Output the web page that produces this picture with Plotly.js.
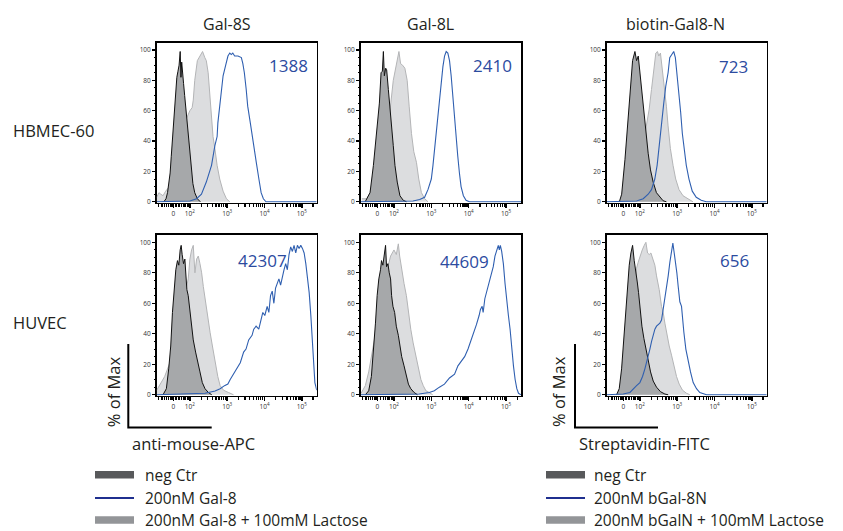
<!DOCTYPE html>
<html>
<head>
<meta charset="utf-8">
<script src="https://cdn.plot.ly/plotly-3.0.1.min.js"></script>
<style>html,body{margin:0;padding:0;background:#fff;}#chart{width:843px;height:531px;}</style>
</head>
<body>
<div id="chart"></div>
<script>
// ---------- DATA (x in display decades of the biexponential scale, y = % of Max) ----------
const colTitles = ["Gal-8S", "Gal-8L", "biotin-Gal8-N"];
const rowTitles = ["HBMEC-60", "HUVEC"];
const mfiLabels = ["1388", "2410", "723", "42307", "44609", "656"];
const xTickVals = [1.555, 2, 3, 4, 5];
const xTickText = ["0", "10<sup>2</sup>", "10<sup>3</sup>", "10<sup>4</sup>", "10<sup>5</sup>"];
const yTickVals = [0, 20, 40, 60, 80, 100];
const legendLeft = ["neg Ctr", "200nM Gal-8", "200nM Gal-8 + 100mM Lactose"];
const legendRight = ["neg Ctr", "200nM bGal-8N", "200nM bGalN + 100mM Lactose"];
const axisLabels = ["anti-mouse-APC", "Streptavidin-FITC"];

// HBMEC-60, Gal-8S
const hb8S_neg_x = [1.30,1.36,1.40,1.44,1.47,1.50,1.53,1.56,1.58,1.62,1.65,1.68,1.71,1.74,1.76,1.78,1.80,1.83,1.86,1.89,1.92,1.95,1.99,2.03,2.08,2.13,2.20,2.28];
const hb8S_neg_y = [0,2,6,12,19,30,41,53,63,74,82,86,90,99,82,92,88,78,70,62,52,43,32,20,12,6,2,0];
const hb8S_lac_x = [1.11,1.17,1.22,1.28,1.35,1.45,1.55,1.65,1.75,1.85,1.91,2.00,2.06,2.09,2.13,2.20,2.27,2.34,2.40,2.44,2.49,2.53,2.58,2.62,2.67,2.73,2.80,2.89,2.98,3.07];
const hb8S_lac_y = [3,6,5,4,7,10,16,24,35,48,55,60,62,67,80,93,96,99,95,93,85,72,56,43,35,24,15,7,2,0];
const hb8S_gal_x = [1.11,2.00,2.18,2.31,2.44,2.58,2.67,2.73,2.75,2.80,2.84,2.89,2.96,3.02,3.07,3.11,3.15,3.20,3.29,3.38,3.42,3.46,3.51,3.55,3.62,3.67,3.70,3.78,3.85,3.91,3.97,4.04,5.40];
const hb8S_gal_y = [0,0.5,2,5,13,24,37,43,52,63,74,83,90,96,98,97,98,96,96,95,91,85,74,63,52,43,37,26,15,6,2,0,0];

// HBMEC-60, Gal-8L
const hb8L_neg_x = [1.23,1.36,1.45,1.54,1.61,1.655,1.69,1.717,1.743,1.779,1.805,1.85,1.894,1.938,1.982,2.027,2.088,2.16,2.248,2.336];
const hb8L_neg_y = [0,6,24,48,65,85,86,99,83,88,87,74,63,52,37,24,13,4,1,0];
const hb8L_lac_x = [1.14,1.27,1.45,1.63,1.805,1.894,1.982,2.071,2.133,2.177,2.23,2.292,2.354,2.407,2.469,2.531,2.602,2.664,2.735,2.823,2.912];
const hb8L_lac_y = [2,2,10,30,50,60,80,91,99,91,90,88,80,63,45,33,26,15,6,2,0];
const hb8L_gal_x = [1.11,2.51,2.69,2.82,2.91,3.0,3.044,3.088,3.133,3.177,3.221,3.265,3.31,3.354,3.398,3.442,3.487,3.531,3.575,3.62,3.664,3.708,3.752,3.796,3.858,3.929,4.018,5.40];
const hb8L_gal_y = [0,0.5,1.5,3,8,15,24,35,45,59,69,80,89,96,99,98,93,83,69,54,41,30,19,10,4,1,0,0];

// HBMEC-60, biotin-Gal8-N
const hbN_neg_x = [1.449,1.511,1.6,1.671,1.733,1.804,1.867,1.911,1.956,2,2.044,2.107,2.16,2.222,2.284,2.356,2.444,2.533,2.622,2.711];
const hbN_neg_y = [0,5,28,52,74,93,99,93,96,85,72,59,45,32,21,13,6,3,0.7,0];
const hbN_lac_x = [1.644,1.822,2,2.133,2.196,2.249,2.311,2.373,2.427,2.471,2.507,2.551,2.604,2.667,2.711,2.756,2.818,2.889,2.96,3.049,3.156,3.289,3.422];
const hbN_lac_y = [0,10,25,45,52,61,74,85,98,99,96,98,87,76,63,50,35,24,15,8,4,2,0];
const hbN_gal_x = [1.11,1.911,2.089,2.222,2.311,2.4,2.462,2.533,2.578,2.64,2.693,2.756,2.8,2.871,2.907,2.951,2.996,3.049,3.093,3.138,3.182,3.244,3.316,3.404,3.511,3.644,3.778,5.40];
const hbN_gal_y = [0,0.5,2,5,8,15,24,41,54,65,76,85,95,98,99,95,85,72,59,45,35,24,15,7,3,1,0,0];

// HUVEC, Gal-8S
const hu8S_neg_x = [1.279,1.369,1.432,1.486,1.532,1.577,1.622,1.667,1.703,1.739,1.766,1.793,1.829,1.865,1.892,1.919,1.955,2,2.045,2.09,2.153,2.207,2.27,2.333,2.405,2.495,2.586];
const hu8S_neg_y = [0,4,17,32,54,71,82,88,85,95,98,92,86,89,80,69,65,56,45,36,28,21,15,8,4,1.5,0];
const hu8S_lac_x = [1.11,1.189,1.324,1.432,1.595,1.775,1.865,1.955,2,2.045,2.09,2.135,2.18,2.225,2.27,2.315,2.36,2.405,2.45,2.495,2.541,2.604,2.676,2.748,2.811,2.901,3.036,3.171];
const hu8S_lac_y = [3,6,12,19,30,55,65,76,89,95,98,80,89,91,86,80,71,63,56,49,41,32,21,12,6,3,1.5,0];
const hu8S_gal_x = [1.11,1.955,2.405,2.676,2.811,2.928,3.018,3.081,3.171,3.261,3.351,3.441,3.505,3.577,3.667,3.712,3.775,3.847,3.892,3.955,4.009,4.072,4.117,4.162,4.207,4.252,4.297,4.342,4.387,4.432,4.477,4.523,4.568,4.613,4.658,4.703,4.748,4.793,4.838,4.883,4.928,4.973,5.018,5.063,5.108,5.153,5.198,5.243,5.288,5.324,5.351,5.40];
const hu8S_gal_y = [0,0.5,1,2.5,4,6,7,10,13.5,17,21,28,30,36,39,43,45,43,47,54,52,58,54,65,68,60,70,73,76,72,78,82,86,82,92,97,94,98,93,98,96,98,96,93,86,78,67,52,32,12,8,3];

// HUVEC, Gal-8L
const hu8L_neg_x = [1.234,1.324,1.396,1.459,1.505,1.55,1.595,1.64,1.667,1.703,1.739,1.775,1.802,1.838,1.874,1.91,1.937,1.973,2.018,2.063,2.117,2.153,2.207,2.27,2.333,2.387,2.45,2.541,2.631];
const hu8L_neg_y = [0,2.6,12,30,47,65,76,82,88,85,93,98,84,86,80,76,65,58,54,45,39,32,25,19,12,7,4,1.5,0];
const hu8L_lac_x = [1.12,1.234,1.324,1.414,1.55,1.685,1.82,1.91,1.955,2,2.063,2.117,2.153,2.207,2.27,2.333,2.387,2.45,2.514,2.586,2.658,2.721,2.784,2.856,2.946,3.036];
const hu8L_lac_y = [1,6,15,28,45,65,82,91,93,95,92,99,91,82,73,65,54,43,34,25,17,10,6,2.6,1.5,0];
const hu8L_gal_x = [1.11,2.676,2.946,3.081,3.216,3.351,3.486,3.622,3.712,3.802,3.892,3.982,4.072,4.135,4.207,4.279,4.315,4.36,4.387,4.432,4.477,4.523,4.568,4.613,4.658,4.703,4.748,4.793,4.82,4.847,4.883,4.928,4.973,5.018,5.063,5.108,5.153,5.198,5.243,5.288,5.333,5.378,5.40];
const hu8L_gal_y = [0,0.5,1.5,2.6,5,7,11,13.5,19,22,25,30,36,41,46,52,56,58,54,63,67,71,76,80,84,91,95,98,95,98,94,86,73,60,52,43,30,19,10,4,1,0,0];

// HUVEC, biotin-Gal8-N
const huN_neg_x = [1.375,1.446,1.509,1.571,1.625,1.67,1.714,1.759,1.804,1.848,1.893,1.929,1.964,2,2.054,2.107,2.161,2.223,2.286,2.357,2.446,2.554,2.67,2.759];
const huN_neg_y = [0,4,17,37,56,71,85,93,98,88,78,74,67,56,45,37,30,21,15,9,5,2,0.5,0];
const huN_lac_x = [1.42,1.554,1.688,1.804,1.911,1.955,2,2.063,2.116,2.161,2.205,2.25,2.295,2.339,2.402,2.446,2.518,2.58,2.625,2.67,2.714,2.786,2.848,2.911,2.982,3.054,3.143,3.25,3.339];
const huN_lac_y = [0,5,25,55,83,87,91,95,98,100,93,92,93,89,85,78,69,58,54,47,41,32,26,19,12,7,3,1,0];
const huN_gal_x = [1.11,1.554,1.732,1.821,1.911,2,2.071,2.134,2.179,2.223,2.268,2.313,2.357,2.402,2.446,2.491,2.536,2.58,2.625,2.67,2.714,2.759,2.804,2.848,2.884,2.92,2.955,2.991,3.027,3.071,3.116,3.143,3.179,3.232,3.295,3.357,3.429,3.518,3.607,3.696,3.786,5.40];
const huN_gal_y = [0,0.5,1.5,4,6,8,12,17,21,26,30,35,39,43,45,46,47,49,56,61,69,78,87,95,99.5,93,87,80,71,61,58,50,41,30,21,15,8,4,1.5,0.5,0,0];

// ---------- STYLE ----------
const W = 843, H = 531;
const FONT = "Open Sans, Noto Sans, sans-serif";
const TXT = "#231f20";
const C_NEG_FILL = "#a6a8aa", C_NEG_LINE = "#111111";
const C_LAC_FILL = "#dcdddf", C_LAC_LINE = "#b3b4b6";
const C_GAL = "#2f5fb0", C_NUM = "#2c4b9f", C_LEG_BLUE = "#1f2f8f";
const C_LEG_NEG = "#58595b", C_LEG_LAC = "#939598";

const colPx = [[156.7, 316.7], [360.7, 521], [606.7, 766.7]];
const rowPx = [[42.7, 202.7], [235, 395.7]];
const px = (x) => x / W;
const py = (y) => 1 - y / H;

const panels = [
  [hb8S_neg_x, hb8S_neg_y, hb8S_lac_x, hb8S_lac_y, hb8S_gal_x, hb8S_gal_y],
  [hb8L_neg_x, hb8L_neg_y, hb8L_lac_x, hb8L_lac_y, hb8L_gal_x, hb8L_gal_y],
  [hbN_neg_x, hbN_neg_y, hbN_lac_x, hbN_lac_y, hbN_gal_x, hbN_gal_y],
  [hu8S_neg_x, hu8S_neg_y, hu8S_lac_x, hu8S_lac_y, hu8S_gal_x, hu8S_gal_y],
  [hu8L_neg_x, hu8L_neg_y, hu8L_lac_x, hu8L_lac_y, hu8L_gal_x, hu8L_gal_y],
  [huN_neg_x, huN_neg_y, huN_lac_x, huN_lac_y, huN_gal_x, huN_gal_y]
];

// minor ticks of the biexponential axis
const minorVals = [1.15, 1.25, 1.32, 1.38, 1.43, 1.48, 1.52, 1.63, 1.71, 1.78, 1.84, 1.89, 1.93, 1.97];
for (let k = 2; k <= 5; k++) for (let m = 2; m <= 9; m++) { const v = k + Math.log10(m); if (v < 5.39) minorVals.push(v); }

const traces = [];
const layout = {
  width: W, height: H, margin: {l: 0, r: 0, t: 0, b: 0},
  paper_bgcolor: "#fff", plot_bgcolor: "#fff", showlegend: false,
  font: {family: FONT, color: TXT},
  annotations: [], shapes: []
};

panels.forEach((p, i) => {
  const r = Math.floor(i / 3), c = i % 3;
  const xa = i === 0 ? "x" : "x" + (i + 1), ya = i === 0 ? "y" : "y" + (i + 1);
  const xk = i === 0 ? "xaxis" : "xaxis" + (i + 1), yk = i === 0 ? "yaxis" : "yaxis" + (i + 1);
  traces.push({x: p[2], y: p[3], xaxis: xa, yaxis: ya, type: "scatter", mode: "lines", fill: "tozeroy",
    fillcolor: C_LAC_FILL, line: {color: C_LAC_LINE, width: 1}, hoverinfo: "skip"});
  traces.push({x: p[0], y: p[1], xaxis: xa, yaxis: ya, type: "scatter", mode: "lines", fill: "tozeroy",
    fillcolor: C_NEG_FILL, line: {color: C_NEG_LINE, width: 1}, hoverinfo: "skip"});
  traces.push({x: p[4], y: p[5], xaxis: xa, yaxis: ya, type: "scatter", mode: "lines",
    line: {color: C_GAL, width: 1.1}, hoverinfo: "skip"});
  layout[xk] = {
    domain: [px(colPx[c][0]), px(colPx[c][1])], anchor: ya, range: [1.11, 5.40],
    showgrid: false, zeroline: false, showline: true, mirror: true, linecolor: "#000", linewidth: 1.6,
    layer: "below traces",
    tickmode: "array", tickvals: xTickVals, ticktext: xTickText, ticks: "outside", ticklen: 4,
    tickwidth: 1.5, tickcolor: "#000", tickfont: {size: 6.5, color: "#333", family: FONT},
    minor: {tickmode: "array", tickvals: minorVals, ticks: "outside", ticklen: 2.5, tickwidth: 1.2, tickcolor: "#000"},
    fixedrange: true
  };
  layout[yk] = {
    domain: [py(rowPx[r][1]), py(rowPx[r][0])], anchor: xa, range: [-0.6, 104.8],
    showgrid: false, zeroline: false, showline: true, mirror: true, linecolor: "#000", linewidth: 1.6,
    layer: "below traces",
    tickmode: "array", tickvals: yTickVals, ticks: "outside", ticklen: 3, tickwidth: 1.2, tickcolor: "#000",
    tickfont: {size: 6.5, color: "#333", family: FONT},
    minor: {dtick: 5, ticks: "outside", ticklen: 1.5, tickwidth: 1, tickcolor: "#000"},
    fixedrange: true
  };
});

// column titles
const colCenters = [227, 430, 675.5];
colTitles.forEach((t, i) => layout.annotations.push({xref: "paper", yref: "paper", x: px(colCenters[i]), y: py(23.5),
  text: t, showarrow: false, xanchor: "center", yanchor: "middle", font: {size: 16, color: TXT}}));
// row titles
const rowCenters = [130, 322];
rowTitles.forEach((t, i) => layout.annotations.push({xref: "paper", yref: "paper", x: px(11), y: py(rowCenters[i]),
  text: t, showarrow: false, xanchor: "left", yanchor: "middle", font: {size: 16.5, color: TXT}}));
// MFI numbers
const mfiPos = [[288, 66], [492.5, 66], [733, 66.5], [262.5, 260], [464, 261], [734, 260]];
mfiLabels.forEach((t, i) => layout.annotations.push({xref: "paper", yref: "paper", x: px(mfiPos[i][0]), y: py(mfiPos[i][1]),
  text: t, showarrow: false, xanchor: "center", yanchor: "middle", font: {size: 17, color: C_NUM}}));

// "% of Max" brackets
[[128.3, 211.7, 113.5, 130], [575, 658, 558.3, 577]].forEach((b, i) => {
  layout.shapes.push({type: "path", xref: "paper", yref: "paper",
    path: `M ${px(b[0])} ${py(344)} L ${px(b[0])} ${py(427.5)} L ${px(b[1])} ${py(427.5)}`,
    line: {color: "#000", width: 2}});
  layout.annotations.push({xref: "paper", yref: "paper", x: px(b[2]), y: py(391.7), text: "% of Max", textangle: -90,
    showarrow: false, xanchor: "center", yanchor: "middle", font: {size: 16.5, color: TXT}});
  layout.annotations.push({xref: "paper", yref: "paper", x: px(b[3]), y: py(443.5), text: axisLabels[i],
    showarrow: false, xanchor: "left", yanchor: "middle", font: {size: 16.5, color: TXT}});
});

// legends
const legRows = [474.7, 498, 520];
[[95, 134, 143, legendLeft], [546, 585, 592, legendRight]].forEach((L) => {
  layout.shapes.push({type: "rect", xref: "paper", yref: "paper", x0: px(L[0]), x1: px(L[1]),
    y0: py(legRows[0] - 3.7), y1: py(legRows[0] + 3.7), fillcolor: C_LEG_NEG, line: {width: 0}});
  layout.shapes.push({type: "line", xref: "paper", yref: "paper", x0: px(L[0]), x1: px(L[1]),
    y0: py(legRows[1]), y1: py(legRows[1]), line: {color: C_LEG_BLUE, width: 2}});
  layout.shapes.push({type: "rect", xref: "paper", yref: "paper", x0: px(L[0]), x1: px(L[1]),
    y0: py(legRows[2] - 3.7), y1: py(legRows[2] + 3.7), fillcolor: C_LEG_LAC, line: {width: 0}});
  L[3].forEach((t, j) => layout.annotations.push({xref: "paper", yref: "paper", x: px(L[2]), y: py(legRows[j]),
    text: t, showarrow: false, xanchor: "left", yanchor: "middle", font: {size: 15.5, color: TXT}}));
});

Plotly.newPlot("chart", traces, layout, {staticPlot: true, displayModeBar: false});
</script>
</body>
</html>
